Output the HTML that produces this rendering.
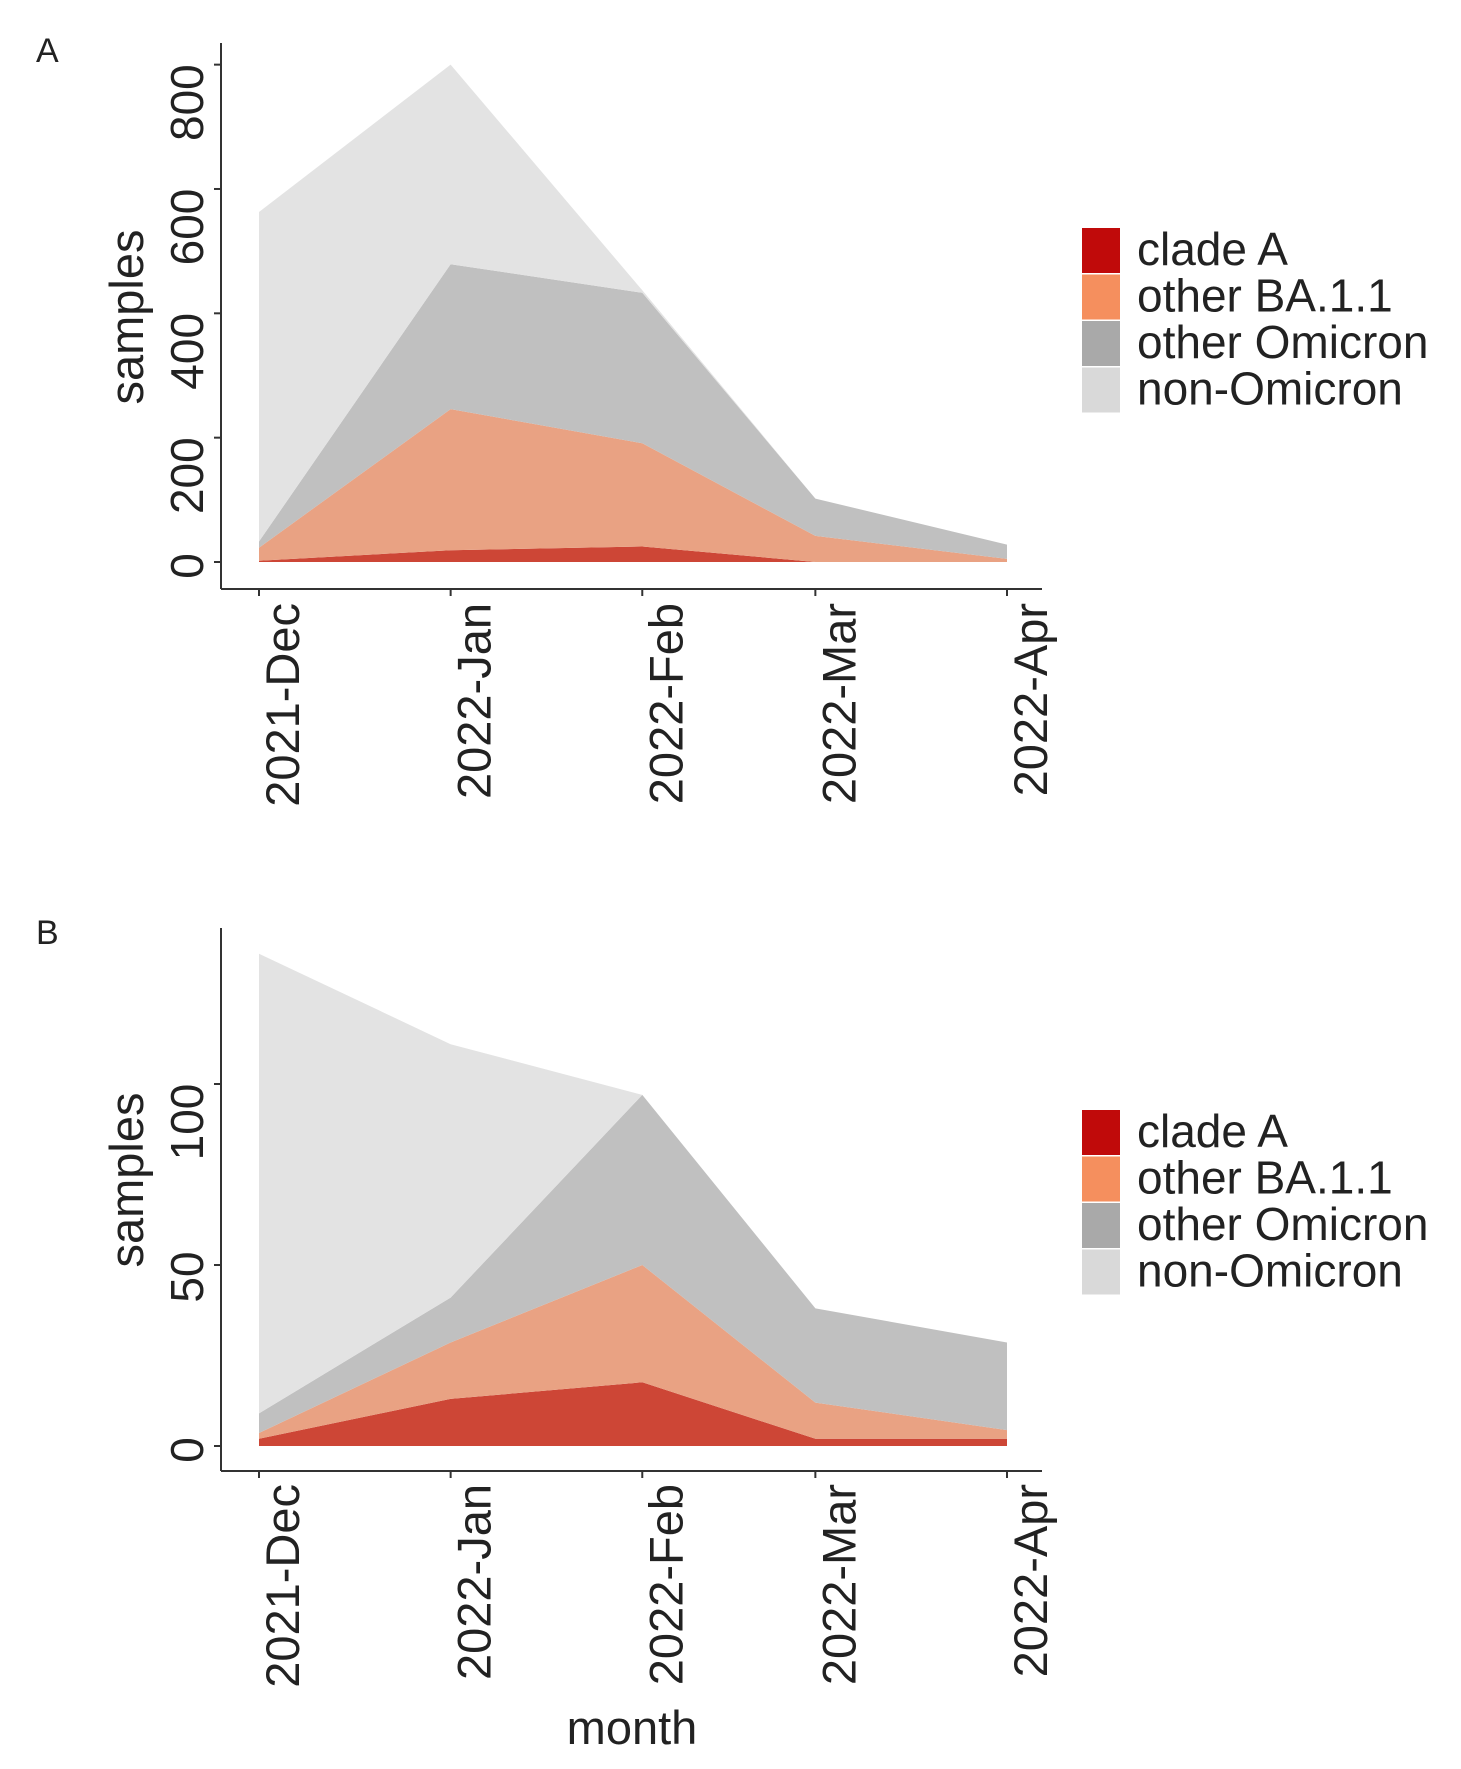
<!DOCTYPE html>
<html><head><meta charset="utf-8"><style>
html,body{margin:0;padding:0;background:#fff;}
svg{display:block;font-family:"Liberation Sans",Arial,sans-serif;}
</style></head><body>
<svg id="fig" width="1461" height="1769" viewBox="0 0 1461 1769"></svg>
<script>
const months = ["2021-Dec","2022-Jan","2022-Feb","2022-Mar","2022-Apr"];
const monthDays = [0,31,62,90,121];
const seriesNames = ["clade A","other BA.1.1","other Omicron","non-Omicron"];
// Panel A (counts per category)
const aCladeA = [2,19,25,0,0];
const aBA11 = [21,227,166,42,5];
const aOmicron = [10,233,242,60,23];
const aNonOmicron = [530,321,4,0,0];
const aTicks = [0,200,400,600,800];
// Panel B
const bCladeA = [2,13,17.6,2,2];
const bBA11 = [1.6,15.6,32.4,10,2.4];
const bOmicron = [5.4,12.4,47,26,24.2];
const bNonOmicron = [127,70,0,0,0];
const bTicks = [0,50,100];

const NS="http://www.w3.org/2000/svg";
const svg=document.getElementById('fig');
const fills=["#cd4636","#e9a283","#c0c0c0","#e3e3e3"];
const keys=["#c00a0a","#f58f5e","#a9a9a9","#d9d9d9"];
function mk(tag,attrs,parent){const e=document.createElementNS(NS,tag);for(const k in attrs)e.setAttribute(k,attrs[k]);(parent||svg).appendChild(e);return e;}
function xs(i){return 259+monthDays[i]*(748/121);}

function panel(p){
  const g=mk('g',{});
  
  
  const y=v=>p.base-v*p.ppu;
  const series=[p.s0,p.s1,p.s2,p.s3];
  let cum=months.map(()=>0);
  series.forEach((s,k)=>{
    const lo=cum.slice();
    const hi=cum.map((c,i)=>c+s[i]);
    let d='';
    hi.forEach((v,i)=>{d+=(i?'L':'M')+xs(i).toFixed(1)+','+y(v).toFixed(1);});
    for(let i=lo.length-1;i>=0;i--)d+='L'+xs(i).toFixed(1)+','+y(lo[i]).toFixed(1);
    d+='Z';
    const a=mk('path',{d:d,fill:fills[k]},g);
    
    
    cum=hi;
  });
  const ax=mk('line',{x1:221,y1:p.top,x2:221,y2:p.axisY,stroke:'#333','stroke-width':2},g);
  
  
  const bx=mk('line',{x1:221,y1:p.axisY,x2:1042,y2:p.axisY,stroke:'#333','stroke-width':2},g);
  
  
  p.ticks.forEach(t=>{
    const ty=y(t);
    mk('line',{x1:214,y1:ty,x2:221,y2:ty,stroke:'#333','stroke-width':2},g);
    const len=String(t).length;
    const ly=ty+(len>=3?38:(len==2?12:4));
    const tx=mk('text',{x:203,y:ly,transform:`rotate(-90 203 ${ly})`,'text-anchor':'middle','font-size':46,fill:'#222'},g);
    tx.textContent=t;
    
    
  });
  months.forEach((m,i)=>{
    const x=xs(i);
    mk('line',{x1:x,y1:p.axisY,x2:x,y2:p.axisY+7,stroke:'#333','stroke-width':2},g);
    const bxl=x+40,byl=p.labTop;
    const tx=mk('text',{x:bxl,y:byl,transform:`rotate(-90 ${bxl} ${byl})`,'text-anchor':'end','font-size':47,fill:'#222'},g);
    tx.textContent=m;
    
    
  });
  const yt=mk('text',{x:143,y:p.ytY,transform:`rotate(-90 143 ${p.ytY})`,'text-anchor':'middle','font-size':47,fill:'#222'},g);
  yt.textContent='samples';
  
  
  const pl=mk('text',{x:36,y:p.letterY,'font-size':34,fill:'#222'},g);
  pl.textContent=p.letter;
  
  
  const lg=mk('g',{},g);
  
  
  seriesNames.forEach((n,k)=>{
    const ry=p.legTop+k*46.5;
    const it=mk('g',{},lg);
    
    
    mk('rect',{x:1082,y:ry,width:38,height:45,fill:keys[k]},it);
    const t=mk('text',{x:1137,y:ry+37,'font-size':46,fill:'#222'},it);
    t.textContent=n;
  });
}
panel({name:'panel-a-chart',s0:aCladeA,s1:aBA11,s2:aOmicron,s3:aNonOmicron,ticks:aTicks,base:562,ppu:0.6217,top:43,axisY:589,labTop:603,ytY:317,letter:'A',letterY:62,legTop:228});
panel({name:'panel-b-chart',s0:bCladeA,s1:bBA11,s2:bOmicron,s3:bNonOmicron,ticks:bTicks,base:1446,ppu:3.62,top:928,axisY:1471,labTop:1484,ytY:1180,letter:'B',letterY:944,legTop:1110});
const mt=mk('text',{x:632,y:1744,'text-anchor':'middle','font-size':47,fill:'#222'});
mt.textContent='month';


</script>
</body></html>
